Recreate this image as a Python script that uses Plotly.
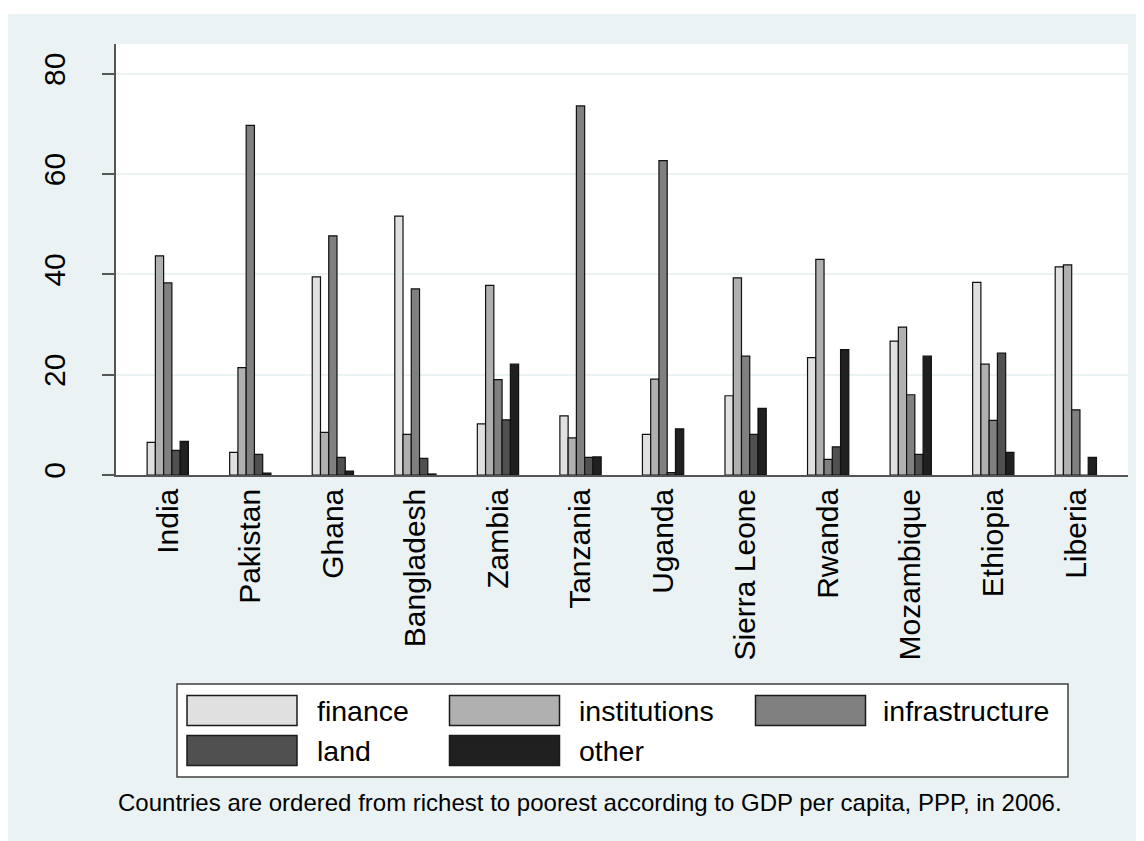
import plotly.graph_objects as go

# ---------------- data ----------------
countries = ["India", "Pakistan", "Ghana", "Bangladesh", "Zambia", "Tanzania",
             "Uganda", "Sierra Leone", "Rwanda", "Mozambique", "Ethiopia", "Liberia"]
finance = [6.5, 4.5, 39.5, 51.6, 10.2, 11.8, 8.1, 15.8, 23.4, 26.7, 38.4, 41.5]
institutions = [43.7, 21.4, 8.5, 8.1, 37.8, 7.4, 19.1, 39.3, 43.0, 29.5, 22.1, 41.9]
infrastructure = [38.3, 69.7, 47.7, 37.1, 19.0, 73.6, 62.7, 23.7, 3.1, 16.0, 10.9, 13.0]
land = [4.9, 4.1, 3.5, 3.3, 11.0, 3.5, 0.5, 8.1, 5.6, 4.1, 24.3, 0.0]
other = [6.7, 0.4, 0.8, 0.2, 22.1, 3.6, 9.2, 13.3, 25.0, 23.7, 4.5, 3.5]

series_names = ["finance", "institutions", "infrastructure", "land", "other"]
series_values = [finance, institutions, infrastructure, land, other]
series_colors = ["#e0e0e0", "#b0b0b0", "#808080", "#505050", "#202020"]

y_ticks = [0, 20, 40, 60, 80]
caption = "Countries are ordered from richest to poorest according to GDP per capita, PPP, in 2006."

# ---------------- layout constants ----------------
# the page body adds an 8px offset, so the figure is 8px smaller
OX, OY = 8, 8
W, H = 1144 - OX, 841 - OY
PLOT_L, PLOT_R, PLOT_T, PLOT_B = 116, 1128, 44, 475   # in window pixels
L = PLOT_L - OX
R = (OX + W) - PLOT_R
T = PLOT_T - OY
B = (OY + H) - PLOT_B
PW = PLOT_R - PLOT_L
PH = PLOT_B - PLOT_T
BG = "#eaf2f3"
AXIS = "#555555"
FONT = "Liberation Sans, Arial, sans-serif"


def px_x(p):
    return (p - PLOT_L) / PW


def px_y(p):
    return (PLOT_B - p) / PH


fig = go.Figure()
for name, vals, col in zip(series_names, series_values, series_colors):
    fig.add_trace(go.Bar(
        x=countries, y=vals, name=name,
        marker=dict(color=col, line=dict(color="#111111", width=1.2)),
        showlegend=False,
    ))

shapes = []
annotations = []

# white strip at the top of the image
shapes.append(dict(type="rect", xref="paper", yref="paper", layer="below",
                   x0=px_x(0), x1=px_x(1144), y0=px_y(OY - 1), y1=px_y(14),
                   fillcolor="white", line=dict(width=0)))

# legend box
shapes.append(dict(type="rect", xref="paper", yref="paper",
                   x0=px_x(177), x1=px_x(1068), y0=px_y(684), y1=px_y(777),
                   fillcolor="white", line=dict(color="#404040", width=1.5)))

col_swatch_x = [187, 449.5, 755.5]
col_text_x = [315, 576.5, 881]
row_top_y = [695.5, 735.5]
sw_w, sw_h = 110, 30
for i, (name, col) in enumerate(zip(series_names, series_colors)):
    r, c = divmod(i, 3)
    x0 = col_swatch_x[c]
    y0 = row_top_y[r]
    shapes.append(dict(type="rect", xref="paper", yref="paper",
                       x0=px_x(x0), x1=px_x(x0 + sw_w),
                       y0=px_y(y0 + sw_h), y1=px_y(y0),
                       fillcolor=col, line=dict(color="#1a1a1a", width=1.5)))
    annotations.append(dict(xref="paper", yref="paper",
                            x=px_x(col_text_x[c]), y=px_y(y0 + sw_h / 2),
                            text=name, showarrow=False, xanchor="left", yanchor="middle",
                            font=dict(family=FONT, size=28.5, color="black")))

annotations.append(dict(xref="paper", yref="paper",
                        x=px_x(590), y=px_y(802), text=caption, showarrow=False,
                        xanchor="center", yanchor="middle",
                        font=dict(family=FONT, size=24, color="black")))

fig.update_layout(
    width=W, height=H,
    margin=dict(l=L, r=R, t=T, b=B, pad=0),
    paper_bgcolor=BG, plot_bgcolor="white",
    barmode="group", bargap=0.5, bargroupgap=0.0,
    font=dict(family=FONT, color="black"),
    shapes=shapes, annotations=annotations,
    showlegend=False,
)
fig.update_xaxes(
    type="category", range=[-0.627, 11.632],
    showline=True, linecolor=AXIS, linewidth=1.5,
    ticks="", showgrid=False, tickangle=-90,
    tickfont=dict(family=FONT, size=30, color="black"),
    ticklabelstandoff=0,
)
fig.update_yaxes(
    range=[0, 85.94], tickvals=y_ticks, ticktext=[str(v) for v in y_ticks],
    showline=True, linecolor=AXIS, linewidth=1.5,
    ticks="outside", ticklen=12, tickcolor=AXIS, tickwidth=1.5,
    showgrid=True, gridcolor=BG, gridwidth=1.5, zeroline=False,
    tickangle=-90, tickfont=dict(family=FONT, size=30, color="black"),
    ticklabelstandoff=25,
)

fig.write_html("out.html")
